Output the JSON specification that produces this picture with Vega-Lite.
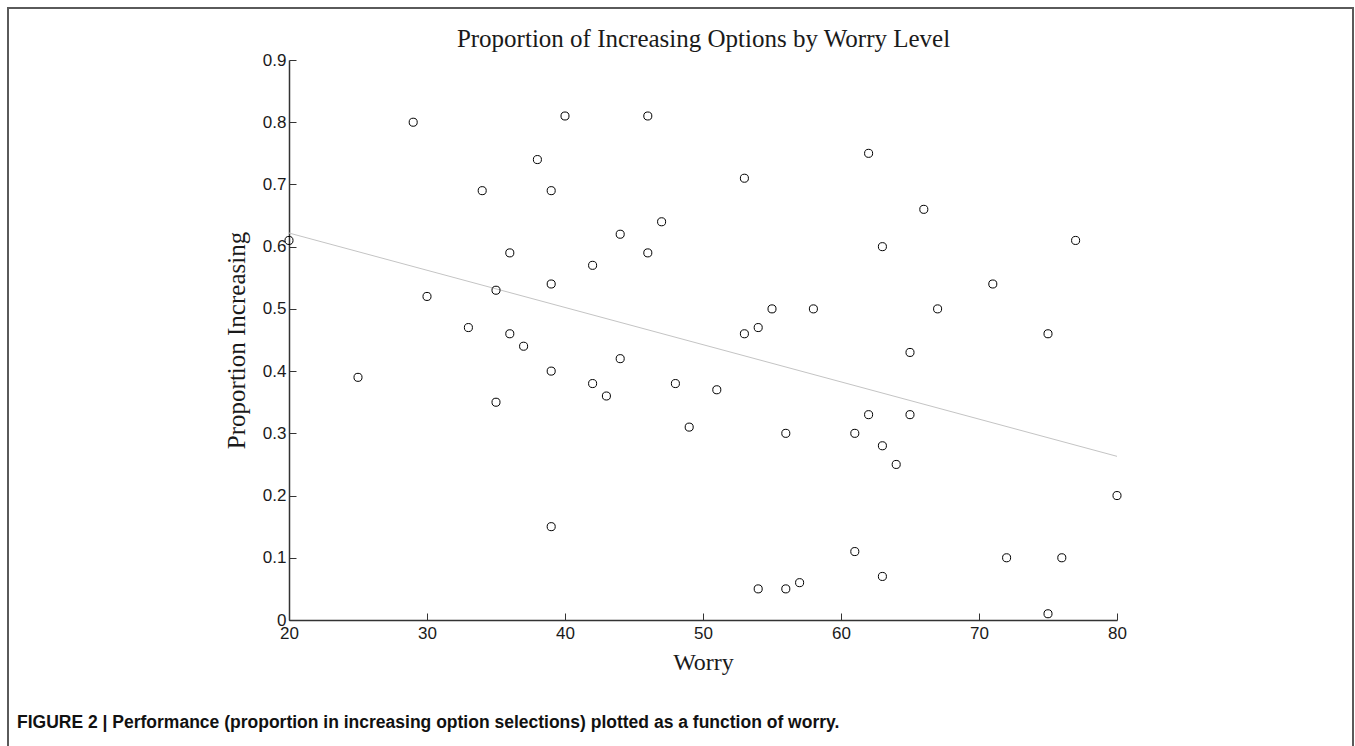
{
  "$schema": "https://vega.github.io/schema/vega-lite/v6.json",
  "autosize": "none",
  "width": 1345,
  "height": 760,
  "padding": {"left": 8, "top": 8, "right": 2, "bottom": 0},
  "background": "white",
  "config": {
    "view": {"stroke": "#5a5a5a", "strokeWidth": 2},
    "axis": {"grid": false}
  },
  "title": {
    "text": "FIGURE 2 | Performance (proportion in increasing option selections) plotted as a function of worry.",
    "orient": "bottom",
    "anchor": "start",
    "frame": "group",
    "font": "Liberation Sans",
    "fontSize": 17.5,
    "fontWeight": "bold",
    "color": "#111111",
    "baseline": "alphabetic",
    "offset": -40,
    "dx": 9
  },
  "data": {
    "values": [
      {"worry": 20, "prop": 0.61}, {"worry": 25, "prop": 0.39}, {"worry": 29, "prop": 0.80},
      {"worry": 30, "prop": 0.52}, {"worry": 33, "prop": 0.47}, {"worry": 34, "prop": 0.69},
      {"worry": 35, "prop": 0.53}, {"worry": 35, "prop": 0.35}, {"worry": 36, "prop": 0.59},
      {"worry": 36, "prop": 0.46}, {"worry": 37, "prop": 0.44}, {"worry": 38, "prop": 0.74},
      {"worry": 39, "prop": 0.69}, {"worry": 39, "prop": 0.54}, {"worry": 39, "prop": 0.40},
      {"worry": 39, "prop": 0.15}, {"worry": 40, "prop": 0.81}, {"worry": 42, "prop": 0.57},
      {"worry": 42, "prop": 0.38}, {"worry": 43, "prop": 0.36}, {"worry": 44, "prop": 0.62},
      {"worry": 44, "prop": 0.42}, {"worry": 46, "prop": 0.81}, {"worry": 46, "prop": 0.59},
      {"worry": 47, "prop": 0.64}, {"worry": 48, "prop": 0.38}, {"worry": 49, "prop": 0.31},
      {"worry": 51, "prop": 0.37}, {"worry": 53, "prop": 0.71}, {"worry": 53, "prop": 0.46},
      {"worry": 54, "prop": 0.47}, {"worry": 54, "prop": 0.05}, {"worry": 55, "prop": 0.50},
      {"worry": 56, "prop": 0.30}, {"worry": 56, "prop": 0.05}, {"worry": 57, "prop": 0.06},
      {"worry": 58, "prop": 0.50}, {"worry": 61, "prop": 0.30}, {"worry": 61, "prop": 0.11},
      {"worry": 62, "prop": 0.75}, {"worry": 62, "prop": 0.33}, {"worry": 63, "prop": 0.60},
      {"worry": 63, "prop": 0.28}, {"worry": 63, "prop": 0.07}, {"worry": 64, "prop": 0.25},
      {"worry": 65, "prop": 0.43}, {"worry": 65, "prop": 0.33}, {"worry": 66, "prop": 0.66},
      {"worry": 67, "prop": 0.50}, {"worry": 71, "prop": 0.54}, {"worry": 72, "prop": 0.10},
      {"worry": 75, "prop": 0.46}, {"worry": 75, "prop": 0.01}, {"worry": 76, "prop": 0.10},
      {"worry": 77, "prop": 0.61}, {"worry": 80, "prop": 0.20}
    ]
  },
  "layer": [
    {
      "transform": [{"regression": "prop", "on": "worry", "extent": [20, 80]}],
      "mark": {"type": "line", "color": "#c4c4c4", "strokeWidth": 1},
      "encoding": {
        "x": {
          "field": "worry", "type": "quantitative",
          "scale": {"domain": [20, 80], "range": [281, 1109], "nice": false, "zero": false},
          "axis": {
            "orient": "bottom",
            "offset": -148,
            "values": [20, 30, 40, 50, 60, 70, 80],
            "format": "d",
            "title": "Worry",
            "titleFont": "Liberation Serif",
            "titleFontSize": 24,
            "titleFontWeight": "normal",
            "titleColor": "#1a1a1a",
            "titleBaseline": "alphabetic",
            "titleY": 49,
            "labelFont": "Liberation Sans",
            "labelFontSize": 17,
            "labelColor": "#1a1a1a",
            "labelPadding": 12,
            "labelFlush": false,
            "labelOverlap": false,
            "tickSize": -7,
            "tickColor": "#333333",
            "domainColor": "#333333",
            "domainWidth": 1.5
          }
        },
        "y": {
          "field": "prop", "type": "quantitative",
          "scale": {"domain": [0, 0.9], "range": [612, 52], "nice": false, "zero": false},
          "axis": {
            "orient": "left",
            "offset": -281,
            "values": [0, 0.1, 0.2, 0.3, 0.4, 0.5, 0.6, 0.7, 0.8, 0.9],
            "format": ".1~f",
            "title": "Proportion Increasing",
            "titleFont": "Liberation Serif",
            "titleFontSize": 25,
            "titleFontWeight": "normal",
            "titleColor": "#1a1a1a",
            "titleBaseline": "alphabetic",
            "titleAngle": 270,
            "titleX": -45,
            "labelFont": "Liberation Sans",
            "labelFontSize": 17,
            "labelColor": "#1a1a1a",
            "labelPadding": 10,
            "labelFlush": false,
            "labelOverlap": false,
            "tickSize": -7,
            "tickColor": "#333333",
            "domainColor": "#333333",
            "domainWidth": 1.5
          }
        }
      }
    },
    {
      "mark": {"type": "point", "shape": "circle", "filled": false, "color": "black", "strokeWidth": 1, "size": 65, "opacity": 1},
      "encoding": {
        "x": {"field": "worry", "type": "quantitative", "axis": null},
        "y": {"field": "prop", "type": "quantitative"}
      }
    },
    {
      "mark": {"type": "point", "opacity": 0},
      "encoding": {
        "x": {
          "field": "worry", "type": "quantitative",
          "axis": {
            "orient": "top",
            "labels": false,
            "ticks": false,
            "domain": false,
            "title": "Proportion of Increasing Options by Worry Level",
            "titleFont": "Liberation Serif",
            "titleFontSize": 25,
            "titleFontWeight": "normal",
            "titleColor": "#1a1a1a",
            "titleAngle": 0,
            "titleAlign": "center",
            "titleBaseline": "alphabetic",
            "titleX": 695,
            "titleY": 38
          }
        },
        "y": {"field": "prop", "type": "quantitative"}
      }
    }
  ],
  "resolve": {"axis": {"x": "independent"}}
}
